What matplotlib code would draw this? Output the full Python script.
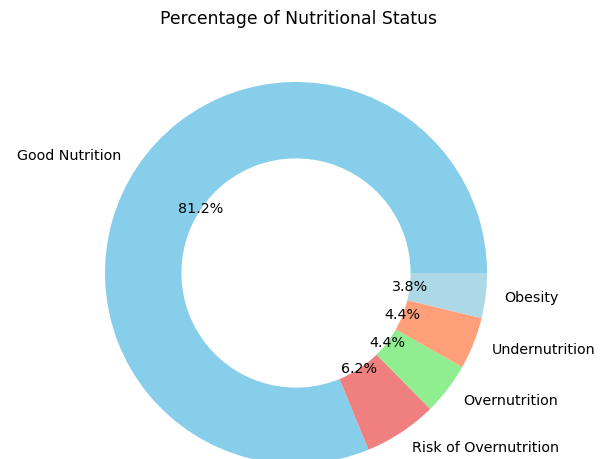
import matplotlib
matplotlib.use("Agg")
import matplotlib.pyplot as plt

categories = ["Good Nutrition", "Risk of Overnutrition", "Overnutrition",
              "Undernutrition", "Obesity"]
percentages = [81.2, 6.2, 4.4, 4.4, 3.8]
colors = ["skyblue", "lightcoral", "lightgreen", "lightsalmon", "lightblue"]

W, H = 606, 459
fig = plt.figure(figsize=(W / 100, H / 100), dpi=100)
ax = fig.add_axes([0, 0, 1, 1])

ax.pie(percentages, labels=categories, colors=colors, autopct="%1.1f%%",
       startangle=0, pctdistance=0.6, labeldistance=1.1,
       wedgeprops=dict(width=0.4), textprops=dict(fontsize=10.3))

# place the donut: centre and radius in pixels
cx, cy, r = 296, 273, 191
ax.set_aspect("auto")
ax.set_xlim(-cx / r, (W - cx) / r)
ax.set_ylim((cy - H) / r, cy / r)
ax.axis("off")

fig.text(298 / W, 1 - 19 / H, "Percentage of Nutritional Status",
         ha="center", va="center", fontsize=12.4)

fig.savefig("out.png", dpi=100)
